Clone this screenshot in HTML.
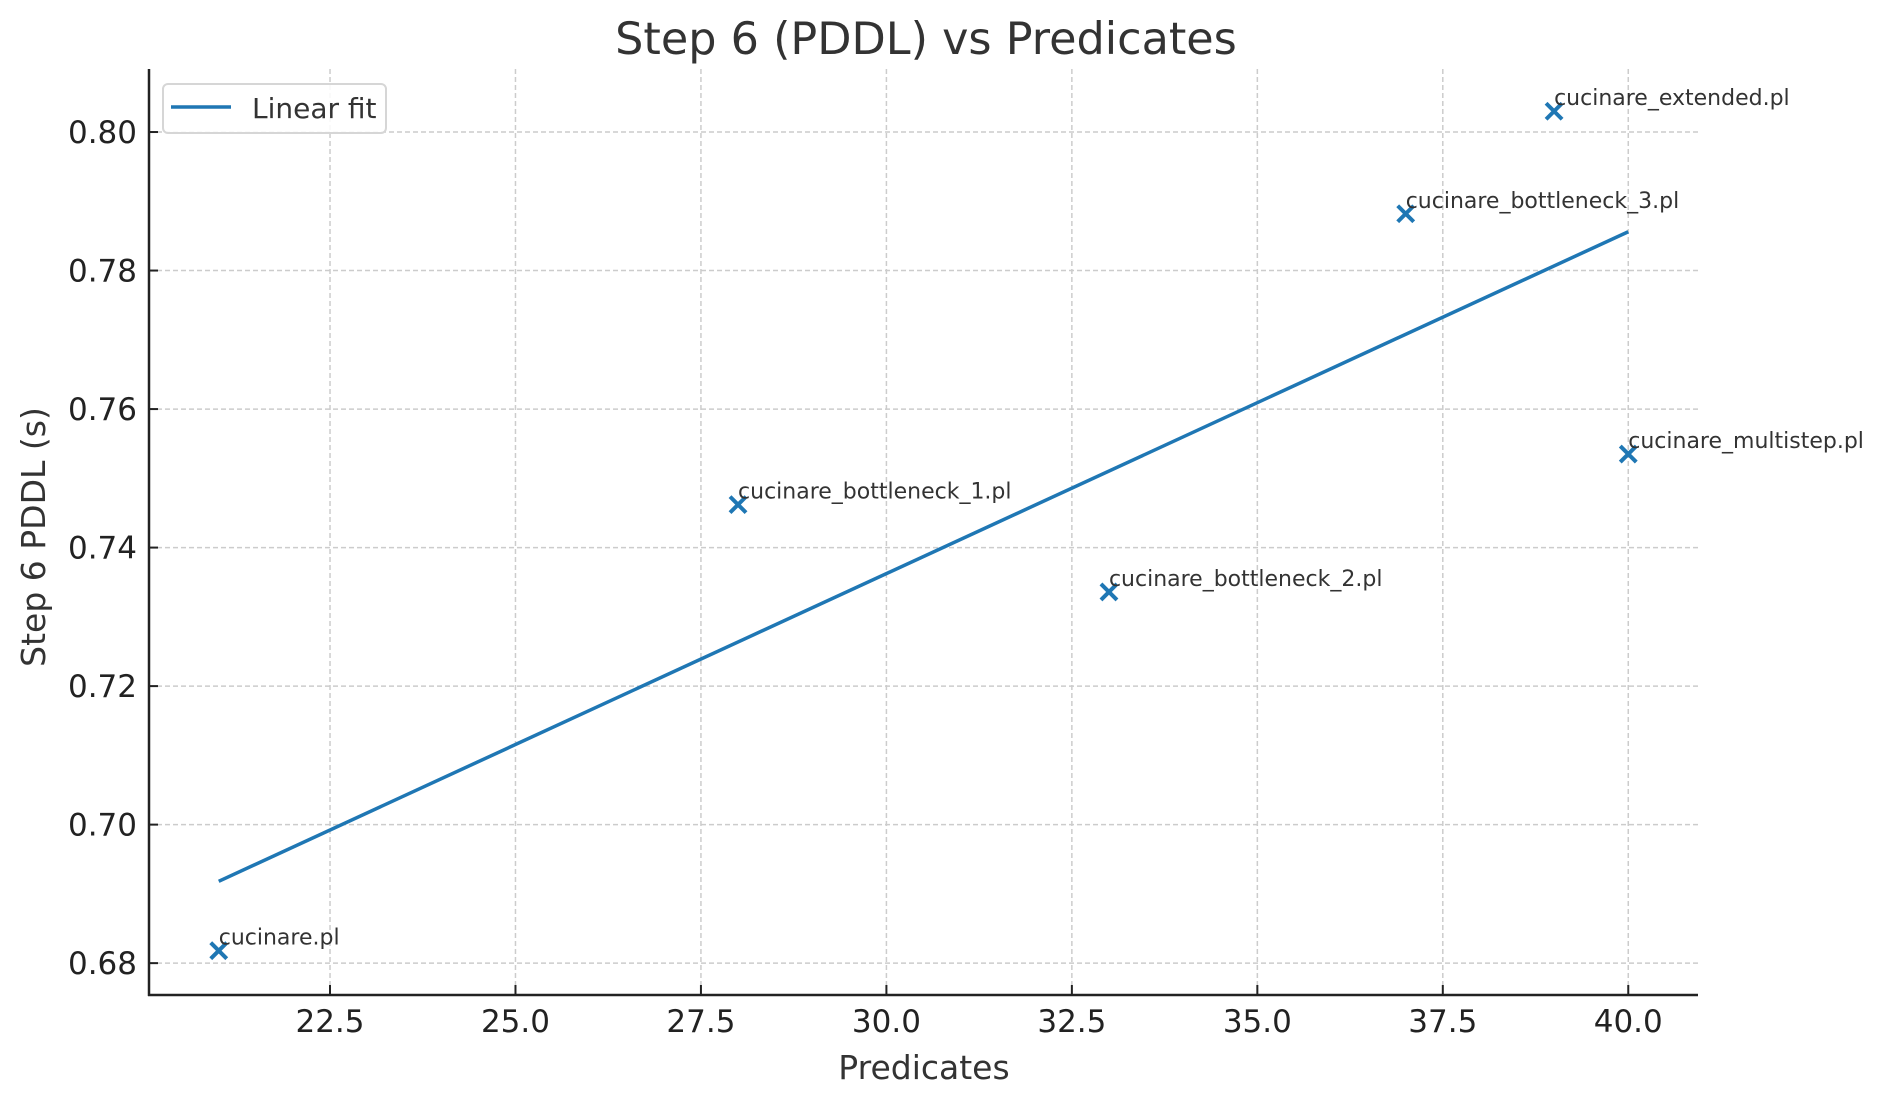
<!DOCTYPE html>
<html><head><meta charset="utf-8"><style>
html,body{margin:0;padding:0;background:#fff;}
svg{display:block;font-family:"DejaVu Sans","Liberation Sans",sans-serif;}
</style></head><body>
<svg id="chart" width="1886" height="1101" viewBox="0 0 1886 1101">
<rect width="1886" height="1101" fill="#fff"/>
<g id="grid"></g>
<g id="fit"></g>
<g id="pts"></g>
<g id="axes"></g>
<text x="926" y="54" font-size="44.5" fill="#333" text-anchor="middle">Step 6 (PDDL) vs Predicates</text>
<text x="924" y="1079" font-size="33" fill="#333" text-anchor="middle">Predicates</text>
<text transform="translate(45,537) rotate(-90)" font-size="33" fill="#333" text-anchor="middle">Step 6 PDDL (s)</text>
<g>
<rect x="163" y="84" width="223" height="49" rx="5" fill="#fff" fill-opacity="0.85" stroke="#d6d6d6" stroke-width="2"/>
<line x1="171" y1="107" x2="231" y2="107" stroke="#1f77b4" stroke-width="3.5"/>
<text x="252" y="118" font-size="28" fill="#333">Linear fit</text>
</g>
</svg>
<script>
const labels = ["cucinare.pl","cucinare_bottleneck_1.pl","cucinare_bottleneck_2.pl","cucinare_bottleneck_3.pl","cucinare_extended.pl","cucinare_multistep.pl"];
const predicates = [21, 28, 33, 37, 39, 40];
const step6 = [0.6818, 0.7462, 0.7336, 0.7882, 0.8030, 0.7535];
const xTicks = [22.5, 25.0, 27.5, 30.0, 32.5, 35.0, 37.5, 40.0];
const yTicks = [0.68, 0.70, 0.72, 0.74, 0.76, 0.78, 0.80];

const L=149,R=1698,T=69,B=995;
const X0=20.06,X1=40.94,Y0=0.6754,Y1=0.8091;
const sx=v=>L+(v-X0)/(X1-X0)*(R-L);
const sy=v=>B-(v-Y0)/(Y1-Y0)*(B-T);
const NS="http://www.w3.org/2000/svg";
function mk(tag,attrs,parent){const e=document.createElementNS(NS,tag);for(const k in attrs)e.setAttribute(k,attrs[k]);parent.appendChild(e);return e;}
const grid=document.getElementById('grid'),axes=document.getElementById('axes'),pts=document.getElementById('pts'),fit=document.getElementById('fit');

xTicks.forEach(t=>{
  const x=sx(t);
  const g=mk('line',{x1:x,x2:x,y1:T,y2:B,stroke:'#cccccc','stroke-width':1.5,'stroke-dasharray':'5,3'},grid);
  
  
  const tk=mk('line',{x1:x,x2:x,y1:B,y2:B-10,stroke:'#222','stroke-width':2},axes);
  
  
  const tx=mk('text',{x:x,y:1032,'font-size':31,fill:'#222','text-anchor':'middle'},axes);
  tx.textContent=t.toFixed(1);
  
  
});
yTicks.forEach(t=>{
  const y=sy(t);
  const g=mk('line',{x1:L,x2:R,y1:y,y2:y,stroke:'#cccccc','stroke-width':1.5,'stroke-dasharray':'5,3'},grid);
  
  
  const tk=mk('line',{x1:L,x2:L+9,y1:y,y2:y,stroke:'#222','stroke-width':2},axes);
  
  
  const tx=mk('text',{x:137,y:y+11,'font-size':31,fill:'#222','text-anchor':'end'},axes);
  tx.textContent=t.toFixed(2);
  
  
});
const ax1=mk('line',{x1:L,x2:L,y1:T,y2:B+1,stroke:'#222','stroke-width':2.5},axes);


const ax2=mk('line',{x1:L-1,x2:R,y1:B,y2:B,stroke:'#222','stroke-width':2.5},axes);



// least-squares fit
const n=predicates.length;
const mx=predicates.reduce((a,b)=>a+b,0)/n, my=step6.reduce((a,b)=>a+b,0)/n;
let sxy=0,sxx=0;for(let i=0;i<n;i++){sxy+=(predicates[i]-mx)*(step6[i]-my);sxx+=(predicates[i]-mx)**2;}
const slope=sxy/sxx, icp=my-slope*mx;
const xmin=Math.min(...predicates), xmax=Math.max(...predicates);
const fl=mk('line',{x1:sx(xmin),y1:sy(icp+slope*xmin),x2:sx(xmax),y2:sy(icp+slope*xmax),stroke:'#1f77b4','stroke-width':3.5},fit);



predicates.forEach((p,i)=>{
  const x=sx(p),y=sy(step6[i]),s=8;
  const m=mk('path',{d:`M${x-s},${y-s}L${x+s},${y+s}M${x-s},${y+s}L${x+s},${y-s}`,stroke:'#1f77b4','stroke-width':4,fill:'none'},pts);
  
  
  const t=mk('text',{x:x,y:y-6,'font-size':22,fill:'#333'},pts);
  t.textContent=labels[i];
  
  
});
</script>
</body></html>
